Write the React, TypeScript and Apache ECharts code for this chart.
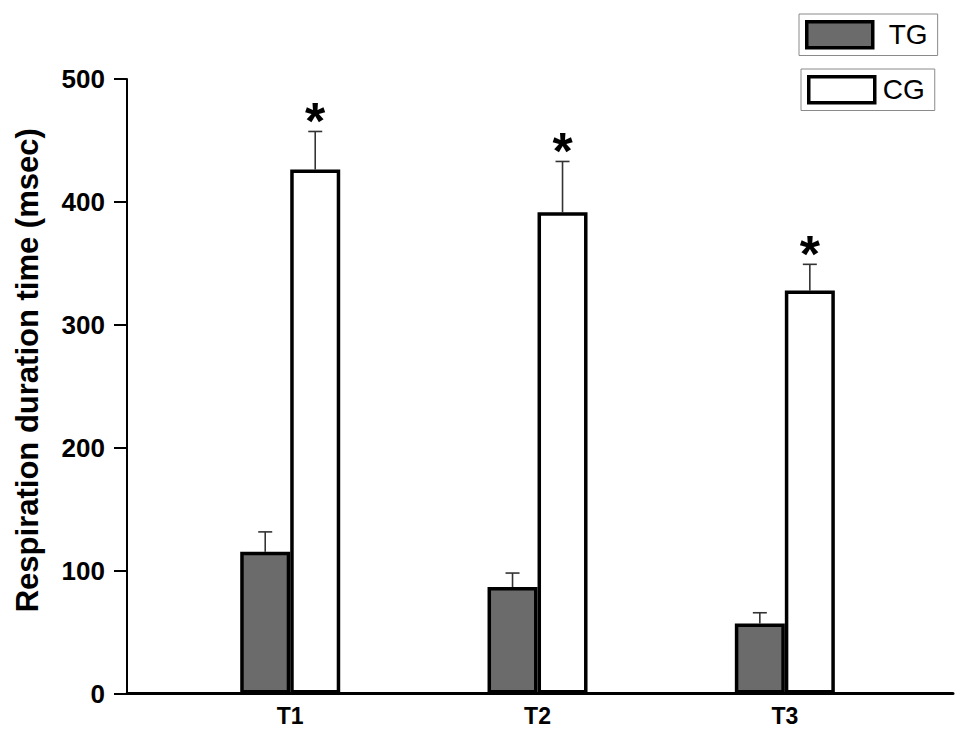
import React, { useEffect, useRef } from "react";
import * as echarts from "echarts";

const categories = ["T1", "T2", "T3"];
const tgMeans = [115.3, 86.6, 57];
const tgErrTops = [131.5, 98, 65.7];
const cgMeans = [426.4, 391.5, 328];
const cgErrTops = [457.3, 432.9, 349.2];
const cgSignificant = [true, true, true];
const yTicks = [0, 100, 200, 300, 400, 500];

const FONT = "'Liberation Sans', Arial, Helvetica, sans-serif";

export default function App() {
  const ref = useRef<HTMLDivElement>(null);

  useEffect(() => {
    if (!ref.current) return;
    const chart = echarts.init(ref.current, undefined, { renderer: "svg" });

    const tgData = categories.map((_, i) => [i + 1, tgMeans[i]]);
    const cgData = categories.map((_, i) => [i + 1, cgMeans[i]]);
    const errData: number[][] = [];
    categories.forEach((_, i) => {
      errData.push([i + 1, tgMeans[i], tgErrTops[i], -1, 0]);
      errData.push([i + 1, cgMeans[i], cgErrTops[i], 1, cgSignificant[i] ? 1 : 0]);
    });

    const legendBase = {
      orient: "vertical" as const,
      borderColor: "#8a8a8a",
      borderWidth: 1,
      padding: [6, 10, 6, 6],
      itemWidth: 66,
      itemHeight: 26,
      icon: "rect",
    };
    const legendText = (gap: number) => ({
      fontFamily: FONT,
      fontSize: 28,
      color: "#000",
      padding: [0, 0, 0, gap],
      lineHeight: 26,
    });

    chart.setOption({
      animation: false,
      backgroundColor: "#fff",
      grid: { left: 127, right: 16, top: 79, bottom: 39.5, containLabel: false },
      legend: [
        {
          ...legendBase,
          left: 799,
          top: 14,
          textStyle: legendText(11),
          data: [
            {
              name: "TG",
              itemStyle: { color: "#6b6b6b", borderColor: "#000", borderWidth: 3.5 },
            },
          ],
        },
        {
          ...legendBase,
          left: 801,
          top: 69,
          textStyle: legendText(3),
          data: [
            {
              name: "CG",
              itemStyle: { color: "#fff", borderColor: "#000", borderWidth: 3.5 },
            },
          ],
        },
      ],
      xAxis: {
        type: "value",
        min: 0.34,
        max: 3.68,
        splitLine: { show: false },
        axisLine: { show: true, onZero: false, lineStyle: { color: "#000", width: 3 } },
        axisTick: { show: false },
        axisLabel: {
          customValues: [1, 2, 3],
          formatter: (v: number) => categories[Math.round(v) - 1] ?? "",
          fontFamily: FONT,
          fontWeight: "bold",
          fontSize: 23,
          color: "#000",
          margin: 11,
        },
      },
      yAxis: {
        type: "value",
        min: 0,
        max: 500,
        interval: 100,
        splitLine: { show: false },
        axisLine: { show: true, lineStyle: { color: "#000", width: 2 } },
        axisTick: { show: true, inside: false, length: 13, lineStyle: { color: "#000", width: 2 } },
        axisLabel: {
          customValues: yTicks,
          fontFamily: FONT,
          fontWeight: "bold",
          fontSize: 26,
          color: "#000",
          margin: 22,
        },
        name: "Respiration duration time (msec)",
        nameLocation: "middle",
        nameGap: 84,
        nameTextStyle: {
          fontFamily: FONT,
          fontWeight: "bold",
          fontSize: 31,
          color: "#000",
          padding: [0, 0, 0, 32],
        },
      },
      series: [
        {
          name: "TG",
          type: "bar",
          data: tgData,
          barWidth: 50,
          barGap: "0%",
          itemStyle: { color: "#6b6b6b", borderColor: "#000", borderWidth: 3.5 },
          z: 3,
        },
        {
          name: "CG",
          type: "bar",
          data: cgData,
          barWidth: 50,
          barGap: "0%",
          itemStyle: { color: "#fff", borderColor: "#000", borderWidth: 3.5 },
          z: 3,
        },
        {
          name: "errors",
          type: "custom",
          data: errData,
          encode: { x: 0, y: [1, 2] },
          clip: false,
          z: 2,
          silent: true,
          renderItem: (params: any, api: any) => {
            const x = api.value(0);
            const v = api.value(1);
            const e = api.value(2);
            const side = api.value(3);
            const star = api.value(4);
            const base = api.coord([x, v]);
            const top = api.coord([x, e]);
            const cx = base[0] + side * 25;
            const children: any[] = [
              {
                type: "line",
                shape: { x1: cx, y1: base[1], x2: cx, y2: top[1] },
                style: { stroke: "#333", lineWidth: 1.6 },
              },
              {
                type: "line",
                shape: { x1: cx - 7, y1: top[1], x2: cx + 7, y2: top[1] },
                style: { stroke: "#333", lineWidth: 1.6 },
              },
            ];
            if (star) {
              children.push({
                type: "text",
                x: cx,
                y: top[1] - 10,
                style: {
                  text: "*",
                  fontFamily: FONT,
                  fontWeight: "bold",
                  fontSize: 52,
                  fill: "#000",
                  align: "center",
                  verticalAlign: "middle",
                },
              });
            }
            return { type: "group", children };
          },
        },
      ],
    });

    return () => chart.dispose();
  }, []);

  return (
    <div
      ref={ref}
      style={{ position: "fixed", left: 0, top: 0, width: 969, height: 733, background: "#fff" }}
    />
  );
}
